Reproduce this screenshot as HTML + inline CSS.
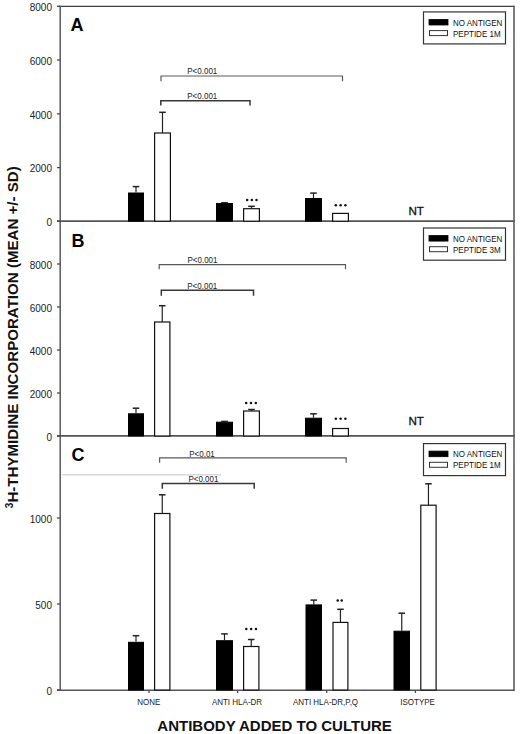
<!DOCTYPE html>
<html><head><meta charset="utf-8"><style>
html,body{margin:0;padding:0;background:#fff;}
body{width:520px;height:734px;overflow:hidden;}
svg{display:block;font-family:"Liberation Sans",sans-serif;}
</style></head><body>
<svg width="520" height="734" viewBox="0 0 520 734">
<rect width="520" height="734" fill="#fff"/>
<line x1="57" y1="6.4" x2="514" y2="6.4" stroke="#404040" stroke-width="1.4"/>
<line x1="60.2" y1="5.8" x2="60.2" y2="690.8" stroke="#5a5a5a" stroke-width="1.5"/>
<line x1="514" y1="5.8" x2="514" y2="690.8" stroke="#484848" stroke-width="1.4"/>
<line x1="57" y1="221.1" x2="514.6" y2="221.1" stroke="#555" stroke-width="1.6"/>
<line x1="57" y1="435.9" x2="514.6" y2="435.9" stroke="#555" stroke-width="1.6"/>
<line x1="57" y1="690.2" x2="514.6" y2="690.2" stroke="#555" stroke-width="1.6"/>
<line x1="62" y1="474.7" x2="221" y2="474.7" stroke="#d8d8d8" stroke-width="1.5"/>
<line x1="57" y1="6.4" x2="60.2" y2="6.4" stroke="#4a4a4a" stroke-width="1.3"/>
<text x="52.0" y="11.1" font-size="10" text-anchor="end" font-weight="normal" fill="#222">8000</text>
<line x1="57" y1="60" x2="60.2" y2="60" stroke="#4a4a4a" stroke-width="1.3"/>
<text x="52.0" y="64.7" font-size="10" text-anchor="end" font-weight="normal" fill="#222">6000</text>
<line x1="57" y1="113.9" x2="60.2" y2="113.9" stroke="#4a4a4a" stroke-width="1.3"/>
<text x="52.0" y="118.6" font-size="10" text-anchor="end" font-weight="normal" fill="#222">4000</text>
<line x1="57" y1="167.6" x2="60.2" y2="167.6" stroke="#4a4a4a" stroke-width="1.3"/>
<text x="52.0" y="172.3" font-size="10" text-anchor="end" font-weight="normal" fill="#222">2000</text>
<line x1="57" y1="221.2" x2="60.2" y2="221.2" stroke="#4a4a4a" stroke-width="1.3"/>
<text x="52.0" y="225.9" font-size="10" text-anchor="end" font-weight="normal" fill="#222">0</text>
<line x1="57" y1="264" x2="60.2" y2="264" stroke="#4a4a4a" stroke-width="1.3"/>
<text x="52.0" y="268.7" font-size="10" text-anchor="end" font-weight="normal" fill="#222">8000</text>
<line x1="57" y1="307" x2="60.2" y2="307" stroke="#4a4a4a" stroke-width="1.3"/>
<text x="52.0" y="311.7" font-size="10" text-anchor="end" font-weight="normal" fill="#222">6000</text>
<line x1="57" y1="350" x2="60.2" y2="350" stroke="#4a4a4a" stroke-width="1.3"/>
<text x="52.0" y="354.7" font-size="10" text-anchor="end" font-weight="normal" fill="#222">4000</text>
<line x1="57" y1="393" x2="60.2" y2="393" stroke="#4a4a4a" stroke-width="1.3"/>
<text x="52.0" y="397.7" font-size="10" text-anchor="end" font-weight="normal" fill="#222">2000</text>
<line x1="57" y1="436" x2="60.2" y2="436" stroke="#4a4a4a" stroke-width="1.3"/>
<text x="52.0" y="440.7" font-size="10" text-anchor="end" font-weight="normal" fill="#222">0</text>
<line x1="57" y1="518" x2="60.2" y2="518" stroke="#4a4a4a" stroke-width="1.3"/>
<text x="52.0" y="522.7" font-size="10" text-anchor="end" font-weight="normal" fill="#222">1000</text>
<line x1="57" y1="604" x2="60.2" y2="604" stroke="#4a4a4a" stroke-width="1.3"/>
<text x="52.0" y="608.7" font-size="10" text-anchor="end" font-weight="normal" fill="#222">500</text>
<line x1="57" y1="690" x2="60.2" y2="690" stroke="#4a4a4a" stroke-width="1.3"/>
<text x="52.0" y="694.7" font-size="10" text-anchor="end" font-weight="normal" fill="#222">0</text>
<text x="70.5" y="31" font-size="18" text-anchor="start" font-weight="bold" >A</text>
<text x="71.5" y="246.8" font-size="18" text-anchor="start" font-weight="bold" >B</text>
<text x="71.5" y="461.3" font-size="18" text-anchor="start" font-weight="bold" >C</text>
<rect x="128.5" y="193.0" width="15" height="28.19999999999999" fill="#000" stroke="#000" stroke-width="1.0"/>
<line x1="136.0" y1="192.5" x2="136.0" y2="186.6" stroke="#222" stroke-width="1.2"/>
<line x1="132.7" y1="186.6" x2="139.3" y2="186.6" stroke="#222" stroke-width="1.5"/>
<rect x="154.6" y="133" width="15.8" height="88.19999999999999" fill="#fff" stroke="#111" stroke-width="1.2"/>
<line x1="162.5" y1="133" x2="162.5" y2="112.3" stroke="#222" stroke-width="1.2"/>
<line x1="159.2" y1="112.3" x2="165.8" y2="112.3" stroke="#222" stroke-width="1.5"/>
<rect x="216.5" y="203.5" width="16" height="17.69999999999999" fill="#000" stroke="#000" stroke-width="1.0"/>
<line x1="224.5" y1="203" x2="224.5" y2="202.7" stroke="#222" stroke-width="1.2"/>
<line x1="221.2" y1="202.7" x2="227.8" y2="202.7" stroke="#222" stroke-width="1.5"/>
<rect x="243.6" y="208.7" width="15.8" height="12.5" fill="#fff" stroke="#111" stroke-width="1.2"/>
<line x1="251.5" y1="208.7" x2="251.5" y2="206.3" stroke="#222" stroke-width="1.2"/>
<line x1="248.2" y1="206.3" x2="254.8" y2="206.3" stroke="#222" stroke-width="1.5"/>
<circle cx="247.20" cy="200" r="1.25" fill="#111"/>
<circle cx="251.85" cy="200" r="1.25" fill="#111"/>
<circle cx="256.50" cy="200" r="1.25" fill="#111"/>
<rect x="305.5" y="198.5" width="16" height="22.69999999999999" fill="#000" stroke="#000" stroke-width="1.0"/>
<line x1="313.5" y1="198" x2="313.5" y2="193.1" stroke="#222" stroke-width="1.2"/>
<line x1="310.2" y1="193.1" x2="316.8" y2="193.1" stroke="#222" stroke-width="1.5"/>
<rect x="332.6" y="213.4" width="15.8" height="7.799999999999983" fill="#fff" stroke="#111" stroke-width="1.2"/>
<circle cx="335.80" cy="205.2" r="1.25" fill="#111"/>
<circle cx="340.60" cy="205.2" r="1.25" fill="#111"/>
<circle cx="345.40" cy="205.2" r="1.25" fill="#111"/>
<text x="408.5" y="214.6" font-size="11.6" text-anchor="start" font-weight="normal" fill="#111" stroke="#111" stroke-width="0.3">NT</text>
<rect x="128.5" y="413.8" width="15" height="22.19999999999999" fill="#000" stroke="#000" stroke-width="1.0"/>
<line x1="136.0" y1="413.3" x2="136.0" y2="408.2" stroke="#222" stroke-width="1.2"/>
<line x1="132.7" y1="408.2" x2="139.3" y2="408.2" stroke="#222" stroke-width="1.5"/>
<rect x="154.6" y="322" width="15.3" height="114" fill="#fff" stroke="#111" stroke-width="1.2"/>
<line x1="162.25" y1="322" x2="162.25" y2="305.7" stroke="#222" stroke-width="1.2"/>
<line x1="158.95" y1="305.7" x2="165.55" y2="305.7" stroke="#222" stroke-width="1.5"/>
<rect x="216.5" y="422.2" width="16" height="13.800000000000011" fill="#000" stroke="#000" stroke-width="1.0"/>
<line x1="224.5" y1="421.7" x2="224.5" y2="421.4" stroke="#222" stroke-width="1.2"/>
<line x1="221.2" y1="421.4" x2="227.8" y2="421.4" stroke="#222" stroke-width="1.5"/>
<rect x="243.6" y="411" width="15.8" height="25" fill="#fff" stroke="#111" stroke-width="1.2"/>
<line x1="251.5" y1="411" x2="251.5" y2="409.5" stroke="#222" stroke-width="1.2"/>
<line x1="248.2" y1="409.5" x2="254.8" y2="409.5" stroke="#222" stroke-width="1.5"/>
<circle cx="246.20" cy="403" r="1.25" fill="#111"/>
<circle cx="251.00" cy="403" r="1.25" fill="#111"/>
<circle cx="255.80" cy="403" r="1.25" fill="#111"/>
<rect x="305.5" y="418.2" width="16" height="17.80000000000001" fill="#000" stroke="#000" stroke-width="1.0"/>
<line x1="313.5" y1="417.7" x2="313.5" y2="413.8" stroke="#222" stroke-width="1.2"/>
<line x1="310.2" y1="413.8" x2="316.8" y2="413.8" stroke="#222" stroke-width="1.5"/>
<rect x="332.6" y="428.5" width="15.8" height="7.5" fill="#fff" stroke="#111" stroke-width="1.2"/>
<circle cx="335.80" cy="418.8" r="1.25" fill="#111"/>
<circle cx="340.60" cy="418.8" r="1.25" fill="#111"/>
<circle cx="345.40" cy="418.8" r="1.25" fill="#111"/>
<text x="408.5" y="424.8" font-size="11.6" text-anchor="start" font-weight="normal" fill="#111" stroke="#111" stroke-width="0.3">NT</text>
<rect x="128.5" y="642.3" width="15" height="47.700000000000045" fill="#000" stroke="#000" stroke-width="1.0"/>
<line x1="136.0" y1="641.8" x2="136.0" y2="635.7" stroke="#222" stroke-width="1.2"/>
<line x1="132.7" y1="635.7" x2="139.3" y2="635.7" stroke="#222" stroke-width="1.5"/>
<rect x="154.6" y="513.5" width="15.3" height="176.5" fill="#fff" stroke="#111" stroke-width="1.2"/>
<line x1="162.25" y1="513.5" x2="162.25" y2="494.8" stroke="#222" stroke-width="1.2"/>
<line x1="158.95" y1="494.8" x2="165.55" y2="494.8" stroke="#222" stroke-width="1.5"/>
<rect x="216.5" y="640.7" width="16" height="49.299999999999955" fill="#000" stroke="#000" stroke-width="1.0"/>
<line x1="224.5" y1="640.2" x2="224.5" y2="633.9" stroke="#222" stroke-width="1.2"/>
<line x1="221.2" y1="633.9" x2="227.8" y2="633.9" stroke="#222" stroke-width="1.5"/>
<rect x="243.6" y="646.5" width="15.3" height="43.5" fill="#fff" stroke="#111" stroke-width="1.2"/>
<line x1="251.25" y1="646.5" x2="251.25" y2="639.5" stroke="#222" stroke-width="1.2"/>
<line x1="247.95" y1="639.5" x2="254.55" y2="639.5" stroke="#222" stroke-width="1.5"/>
<circle cx="246.30" cy="628.9" r="1.25" fill="#111"/>
<circle cx="251.15" cy="628.9" r="1.25" fill="#111"/>
<circle cx="256.00" cy="628.9" r="1.25" fill="#111"/>
<rect x="306.0" y="604.9" width="15.5" height="85.10000000000002" fill="#000" stroke="#000" stroke-width="1.0"/>
<line x1="313.75" y1="604.4" x2="313.75" y2="600.1" stroke="#222" stroke-width="1.2"/>
<line x1="310.45" y1="600.1" x2="317.05" y2="600.1" stroke="#222" stroke-width="1.5"/>
<rect x="333.0" y="622.4" width="14.900000000000023" height="67.60000000000002" fill="#fff" stroke="#111" stroke-width="1.2"/>
<line x1="340.45" y1="622.4" x2="340.45" y2="609.3" stroke="#222" stroke-width="1.2"/>
<line x1="337.15" y1="609.3" x2="343.75" y2="609.3" stroke="#222" stroke-width="1.5"/>
<circle cx="337.70" cy="600.4" r="1.25" fill="#111"/>
<circle cx="341.70" cy="600.4" r="1.25" fill="#111"/>
<rect x="394.0" y="631.2" width="15.5" height="58.799999999999955" fill="#000" stroke="#000" stroke-width="1.0"/>
<line x1="401.75" y1="630.7" x2="401.75" y2="613.2" stroke="#222" stroke-width="1.2"/>
<line x1="398.45" y1="613.2" x2="405.05" y2="613.2" stroke="#222" stroke-width="1.5"/>
<rect x="420.8" y="505.2" width="15.3" height="184.8" fill="#fff" stroke="#111" stroke-width="1.2"/>
<line x1="428.45" y1="505.2" x2="428.45" y2="483.8" stroke="#222" stroke-width="1.2"/>
<line x1="425.15" y1="483.8" x2="431.75" y2="483.8" stroke="#222" stroke-width="1.5"/>
<line x1="149" y1="690" x2="149" y2="693" stroke="#4a4a4a" stroke-width="1.3"/>
<line x1="237.6" y1="690" x2="237.6" y2="693" stroke="#4a4a4a" stroke-width="1.3"/>
<line x1="326.7" y1="690" x2="326.7" y2="693" stroke="#4a4a4a" stroke-width="1.3"/>
<line x1="415.4" y1="690" x2="415.4" y2="693" stroke="#4a4a4a" stroke-width="1.3"/>
<text x="148.8" y="705.4" font-size="9" text-anchor="middle" textLength="23.11" lengthAdjust="spacingAndGlyphs" fill="#222">NONE</text>
<text x="237" y="705.4" font-size="9" text-anchor="middle" textLength="50.23" lengthAdjust="spacingAndGlyphs" fill="#222">ANTI HLA-DR</text>
<text x="325.5" y="705.4" font-size="9" text-anchor="middle" textLength="65.20" lengthAdjust="spacingAndGlyphs" fill="#222">ANTI HLA-DR,P,Q</text>
<text x="417.6" y="705.4" font-size="9" text-anchor="middle" textLength="34.68" lengthAdjust="spacingAndGlyphs" fill="#222">ISOTYPE</text>
<path d="M161 81.2 V76 H342.5 V81.2" fill="none" stroke="#5a5a5a" stroke-width="1.2"/>
<text x="202.3" y="74" font-size="9" text-anchor="middle" textLength="30.03" lengthAdjust="spacingAndGlyphs" fill="#222">P&lt;0.001</text>
<path d="M160.8 105.5 V100.8 H250 V105.5" fill="none" stroke="#383838" stroke-width="1.5"/>
<text x="202.3" y="99" font-size="9" text-anchor="middle" textLength="30.03" lengthAdjust="spacingAndGlyphs" fill="#222">P&lt;0.001</text>
<path d="M159.2 269.3 V264.6 H345.5 V269.3" fill="none" stroke="#5a5a5a" stroke-width="1.2"/>
<text x="202.5" y="263" font-size="9" text-anchor="middle" textLength="30.03" lengthAdjust="spacingAndGlyphs" fill="#222">P&lt;0.001</text>
<path d="M161.3 295.7 V290.2 H253.5 V295.7" fill="none" stroke="#383838" stroke-width="1.5"/>
<text x="202.3" y="288.6" font-size="9" text-anchor="middle" textLength="30.03" lengthAdjust="spacingAndGlyphs" fill="#222">P&lt;0.001</text>
<path d="M159.6 462.7 V457.8 H346.2 V462.7" fill="none" stroke="#5a5a5a" stroke-width="1.2"/>
<text x="202" y="456.8" font-size="9" text-anchor="middle" textLength="25.58" lengthAdjust="spacingAndGlyphs" fill="#222">P&lt;0.01</text>
<path d="M162.3 488.8 V483.6 H254.2 V488.8" fill="none" stroke="#383838" stroke-width="1.5"/>
<text x="203.4" y="482.2" font-size="9" text-anchor="middle" textLength="30.03" lengthAdjust="spacingAndGlyphs" fill="#222">P&lt;0.001</text>
<rect x="423.5" y="11.9" width="82" height="32" fill="#fff" stroke="#333" stroke-width="1.2"/>
<rect x="429" y="19.4" width="19" height="5.6" fill="#000" stroke="#000" stroke-width="0.8"/>
<rect x="429.5" y="30.6" width="18" height="5" fill="#fff" stroke="#333" stroke-width="1.0"/>
<text x="453" y="25.5" font-size="9" text-anchor="start" textLength="49.34" lengthAdjust="spacingAndGlyphs" fill="#111">NO ANTIGEN</text>
<text x="453" y="36.6" font-size="9" text-anchor="start" textLength="47.57" lengthAdjust="spacingAndGlyphs" fill="#111">PEPTIDE 1M</text>
<rect x="423.5" y="228.0" width="82" height="32.2" fill="#fff" stroke="#333" stroke-width="1.2"/>
<rect x="429" y="235.5" width="19" height="5.6" fill="#000" stroke="#000" stroke-width="0.8"/>
<rect x="429.5" y="246.7" width="18" height="5" fill="#fff" stroke="#333" stroke-width="1.0"/>
<text x="453" y="241.6" font-size="9" text-anchor="start" textLength="49.34" lengthAdjust="spacingAndGlyphs" fill="#111">NO ANTIGEN</text>
<text x="453" y="252.7" font-size="9" text-anchor="start" textLength="47.57" lengthAdjust="spacingAndGlyphs" fill="#111">PEPTIDE 3M</text>
<rect x="423.5" y="443.6" width="82" height="32" fill="#fff" stroke="#333" stroke-width="1.2"/>
<rect x="429" y="451.1" width="19" height="5.6" fill="#000" stroke="#000" stroke-width="0.8"/>
<rect x="429.5" y="462.3" width="18" height="5" fill="#fff" stroke="#333" stroke-width="1.0"/>
<text x="453" y="457.20000000000005" font-size="9" text-anchor="start" textLength="49.34" lengthAdjust="spacingAndGlyphs" fill="#111">NO ANTIGEN</text>
<text x="453" y="468.3" font-size="9" text-anchor="start" textLength="47.57" lengthAdjust="spacingAndGlyphs" fill="#111">PEPTIDE 1M</text>
<text x="274.6" y="730.8" font-size="15" text-anchor="middle" font-weight="bold" fill="#111">ANTIBODY ADDED TO CULTURE</text>
<text transform="translate(18.1,337.2) rotate(-90)" font-size="15.1" font-weight="bold" text-anchor="middle" fill="#111"><tspan font-size="10" dy="-4.9">3</tspan><tspan dy="4.9">H-THYMIDINE INCORPORATION (MEAN +/- SD)</tspan></text>
</svg>
</body></html>
